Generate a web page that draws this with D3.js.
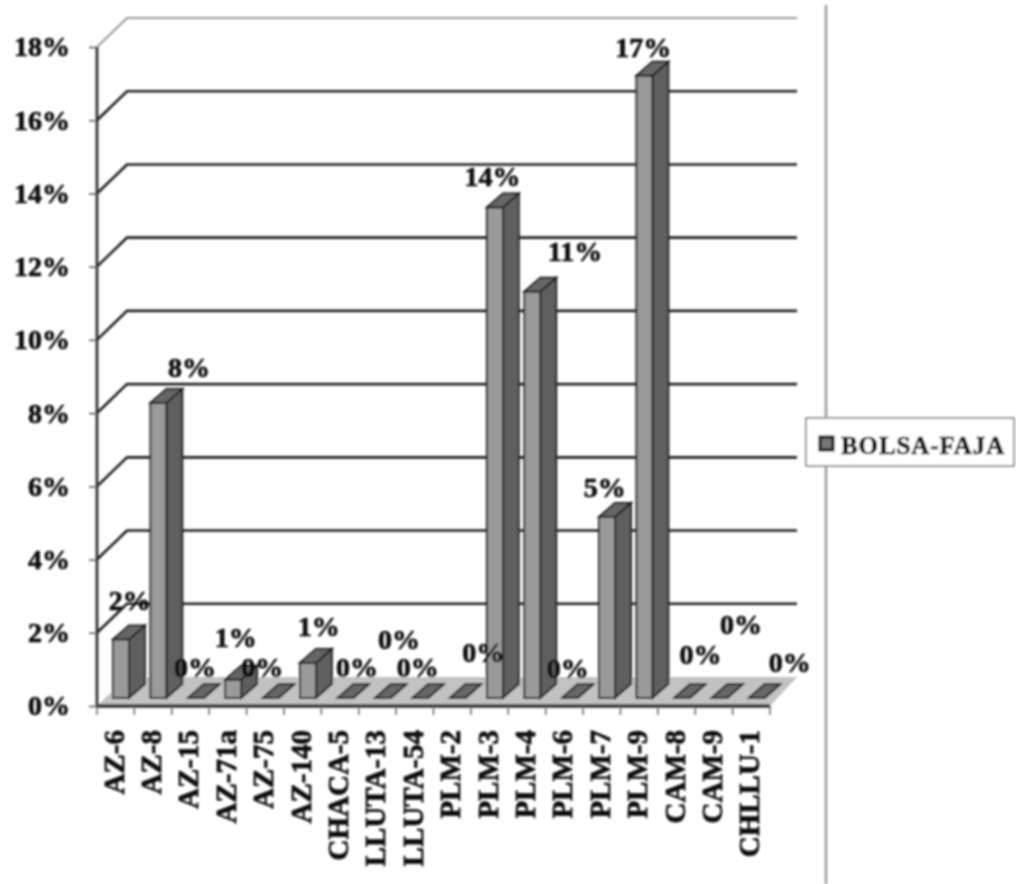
<!DOCTYPE html>
<html><head><meta charset="utf-8">
<style>html,body{margin:0;padding:0;background:#fff}svg{display:block}text{font-family:"Liberation Serif",serif;font-weight:bold;fill:#111;stroke:#111;stroke-width:.7px}</style>
<script src="https://cdn.jsdelivr.net/npm/d3@7/dist/d3.min.js"></script>
</head><body><svg id="c" width="1016" height="884"></svg>
<script>
const categories=["AZ-6","AZ-8","AZ-15","AZ-71a","AZ-75","AZ-140","CHACA-5","LLUTA-13","LLUTA-54","PLM-2","PLM-3","PLM-4","PLM-6","PLM-7","PLM-9","CAM-8","CAM-9","CHLLU-1"];
const values=[1.6,8.06,0,0.5,0,0.96,0,0,0,0,13.4,11.1,0,4.95,17,0,0,0];
const valueLabels=["2%","8%","0%","1%","0%","1%","0%","0%","0%","0%","14%","11%","0%","5%","17%","0%","0%","0%"];
const yTicks=[0,2,4,6,8,10,12,14,16,18];
const seriesName="BOLSA-FAJA";
const labelNudges=[[14,-47],[36,-43],[4.5,-38],[8,-50],[-3,-38],[16,-44],[17,-38],[21.5,-66],[3,-38],[31,-53],[3,-38.6],[48,-48],[3.5,-37],[3,-37],[4,-36],[24,-51],[27,-81],[38.5,-43]];

const svg=d3.select("#c");
const defs=svg.append("defs");
defs.append("filter").attr("id","soft").attr("x","-5%").attr("y","-5%").attr("width","110%").attr("height","110%")
  .append("feGaussianBlur").attr("stdDeviation",0.9);
const g=svg.append("g").attr("filter","url(#soft)");

const x=d3.scaleBand().domain(categories).range([97,770]);
const y=d3.scaleLinear().domain([0,18]).range([706,47]);
const wallDx=30,wallDy=-29,backRight=797;
const barW=16,barDx=16,barDy=-14,baseLift=8,barShift=-2.7;

// floor
g.append("path").attr("d",`M${x.range()[0]},${y(0)}L${x.range()[0]+wallDx},${y(0)+wallDy}L${backRight},${y(0)+wallDy}L${x.range()[1]},${y(0)}Z`).attr("fill","#c2c2c2");

// wall gridlines
g.selectAll("path.grid").data(yTicks.filter(t=>t>0)).join("path").attr("class","grid")
  .attr("d",t=>`M${x.range()[0]},${y(t)}L${x.range()[0]+wallDx},${y(t)+wallDy}L${backRight},${y(t)+wallDy}`)
  .attr("fill","none").attr("stroke",t=>t===18?"#999":"#222").attr("stroke-width",t=>t===18?2:2.6);

// axes
const yAxis=d3.axisLeft(y).tickValues(yTicks).tickFormat(d=>d+"%").tickSize(8).tickPadding(19);
const ya=g.append("g").attr("transform",`translate(${x.range()[0]},0)`).call(yAxis);
ya.select(".domain").attr("stroke","#333").attr("stroke-width",2.8).attr("d",`M0,${y(18)}V${y(0)}`);
ya.selectAll(".tick line").attr("stroke","#555").attr("stroke-width",1.5);
ya.selectAll("text").attr("font-size",28).attr("font-family",null).attr("dy","0.32em").style("font-family",'"Liberation Serif",serif').style("font-weight","bold").style("fill","#111");

const xAxis=d3.axisBottom(x).tickSize(0).tickFormat(d=>d);
const xa=g.append("g").attr("transform",`translate(0,${y(0)})`).call(xAxis);
xa.select(".domain").attr("stroke","#333").attr("stroke-width",3.4).attr("d",`M${x.range()[0]},0H${x.range()[1]}`);
xa.selectAll(".tick text").attr("font-size",29).attr("text-anchor","end").attr("dy",null).attr("y",null)
  .attr("transform","translate(8,24) rotate(-90)").style("font-family",'"Liberation Serif",serif').style("font-weight","bold").style("fill","#111");
g.selectAll("line.xt").data(d3.range(categories.length+1)).join("line").attr("class","xt")
  .attr("x1",i=>x.range()[0]+i*x.step()).attr("x2",i=>x.range()[0]+i*x.step())
  .attr("y1",y(0)).attr("y2",y(0)+9).attr("stroke","#666").attr("stroke-width",1.5);

// 3D bars
const bars=g.selectAll("g.bar").data(categories.map((c,i)=>({c,v:values[i],i}))).join("g").attr("class","bar");
const L=d=>x(d.c)+x.bandwidth()/2-barW/2+baseLift+barShift;
const R=d=>L(d)+barW;
const B=()=>y(0)-baseLift;
const T=d=>y(d.v)-baseLift;
const st={stroke:"#1c1c1c","stroke-width":1.8};
function face(sel,fill,fn){const p=sel.append("path").attr("fill",fill).attr("d",fn);Object.entries(st).forEach(([k,v])=>p.attr(k,v));}
face(bars,"#5e5e5e",d=>`M${R(d)},${B()}L${R(d)+barDx},${B()+barDy}L${R(d)+barDx},${T(d)+barDy}L${R(d)},${T(d)}Z`);
face(bars,"#9a9a9a",d=>`M${L(d)},${B()}L${R(d)},${B()}L${R(d)},${T(d)}L${L(d)},${T(d)}Z`);
face(bars,"#666",d=>`M${L(d)},${T(d)}L${R(d)},${T(d)}L${R(d)+barDx},${T(d)+barDy}L${L(d)+barDx},${T(d)+barDy}Z`);

// data labels
g.selectAll("text.val").data(categories.map((c,i)=>({c,v:values[i],i}))).join("text").attr("class","val")
  .attr("x",d=>x(d.c)+x.bandwidth()/2+labelNudges[d.i][0])
  .attr("y",d=>y(d.v)+labelNudges[d.i][1]).attr("dy","0.33em").attr("text-anchor","middle").attr("font-size",28)
  .text(d=>valueLabels[d.i]);

// divider + legend
g.append("line").attr("x1",826).attr("x2",826).attr("y1",5).attr("y2",884).attr("stroke","#999").attr("stroke-width",2.5);
g.append("rect").attr("x",806).attr("y",418).attr("width",208).attr("height",48).attr("fill","#fff").attr("stroke","#999").attr("stroke-width",2);
g.append("rect").attr("x",820).attr("y",437).attr("width",13).attr("height",13).attr("fill","#777").attr("stroke","#111").attr("stroke-width",3);
g.append("text").attr("x",841).attr("y",445).attr("dy","0.35em").attr("font-size",25).attr("letter-spacing",0.9).text(seriesName);
</script></body></html>
